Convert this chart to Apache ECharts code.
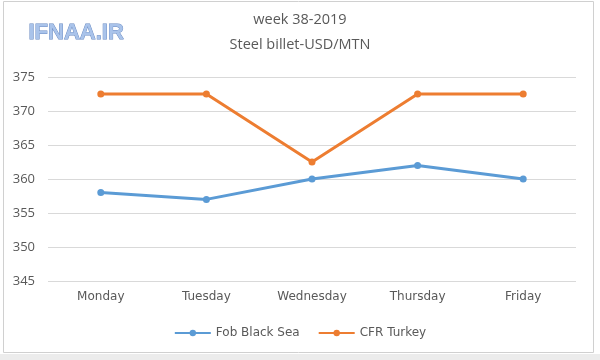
<!DOCTYPE html>
<html><head><meta charset="utf-8">
<script src="https://cdn.jsdelivr.net/npm/echarts@6/dist/echarts.min.js"></script>
<style>html,body{margin:0;padding:0;background:#fff}#c{width:600px;height:360px}</style>
</head><body><div id="c"></div>
<script>
const categories = ['Monday','Tuesday','Wednesday','Thursday','Friday'];
const fobBlackSea = [358, 357, 360, 362, 360];
const cfrTurkey = [372.5, 372.5, 362.5, 372.5, 372.5];
const yMin = 345, yMax = 375, yStep = 5;

const chart = echarts.init(document.getElementById('c'));
chart.setOption({
  animation: false,
  backgroundColor: '#fff',
  title: {
    text: 'week 38-2019\nSteel billet-USD/MTN',
    left: 'center', top: 2,
    textStyle: { fontFamily: 'Open Sans', fontSize: 14.5, fontWeight: 'normal', color: '#595959', lineHeight: 25 }
  },
  graphic: [
    { type: 'rect', shape: { x: 3.5, y: 1.5, width: 590, height: 351 }, style: { fill: 'none', stroke: '#d0d0d0', lineWidth: 1 }, silent: true },
    { type: 'rect', shape: { x: 0, y: 354, width: 600, height: 6 }, style: { fill: '#ececec' }, silent: true },
    { type: 'text', left: 28, top: 21, style: { text: 'IFNAA.IR', font: 'bold 22px Arial, Liberation Sans', fill: '#a9c3ea', stroke: '#6688c0', lineWidth: 0.9 }, silent: true }
  ],
  grid: { left: 48, right: 24, top: 77, bottom: 79, containLabel: false },
  legend: {
    bottom: 16, left: 'center', itemGap: 18, itemWidth: 36, itemHeight: 8,
    textStyle: { fontFamily: 'Verdana, DejaVu Sans', fontSize: 12, color: '#595959' },
    data: ['Fob Black Sea', 'CFR Turkey']
  },
  xAxis: {
    type: 'category', data: categories, boundaryGap: true,
    axisLine: { show: false }, axisTick: { show: false },
    axisLabel: { color: '#595959', fontFamily: 'Verdana, DejaVu Sans', fontSize: 12, margin: 10 }
  },
  yAxis: {
    type: 'value', min: yMin, max: yMax, interval: yStep,
    axisLine: { show: false }, axisTick: { show: false },
    splitLine: { lineStyle: { color: '#d9d9d9', width: 1 } },
    axisLabel: { color: '#595959', fontFamily: 'Open Sans', fontSize: 13, margin: 13 }
  },
  series: [
    { name: 'Fob Black Sea', type: 'line', data: fobBlackSea, symbol: 'circle', symbolSize: 7,
      lineStyle: { color: '#5b9bd5', width: 3 }, itemStyle: { color: '#5b9bd5' } },
    { name: 'CFR Turkey', type: 'line', data: cfrTurkey, symbol: 'circle', symbolSize: 7,
      lineStyle: { color: '#ed7d31', width: 3 }, itemStyle: { color: '#ed7d31' } }
  ]
});
</script></body></html>
